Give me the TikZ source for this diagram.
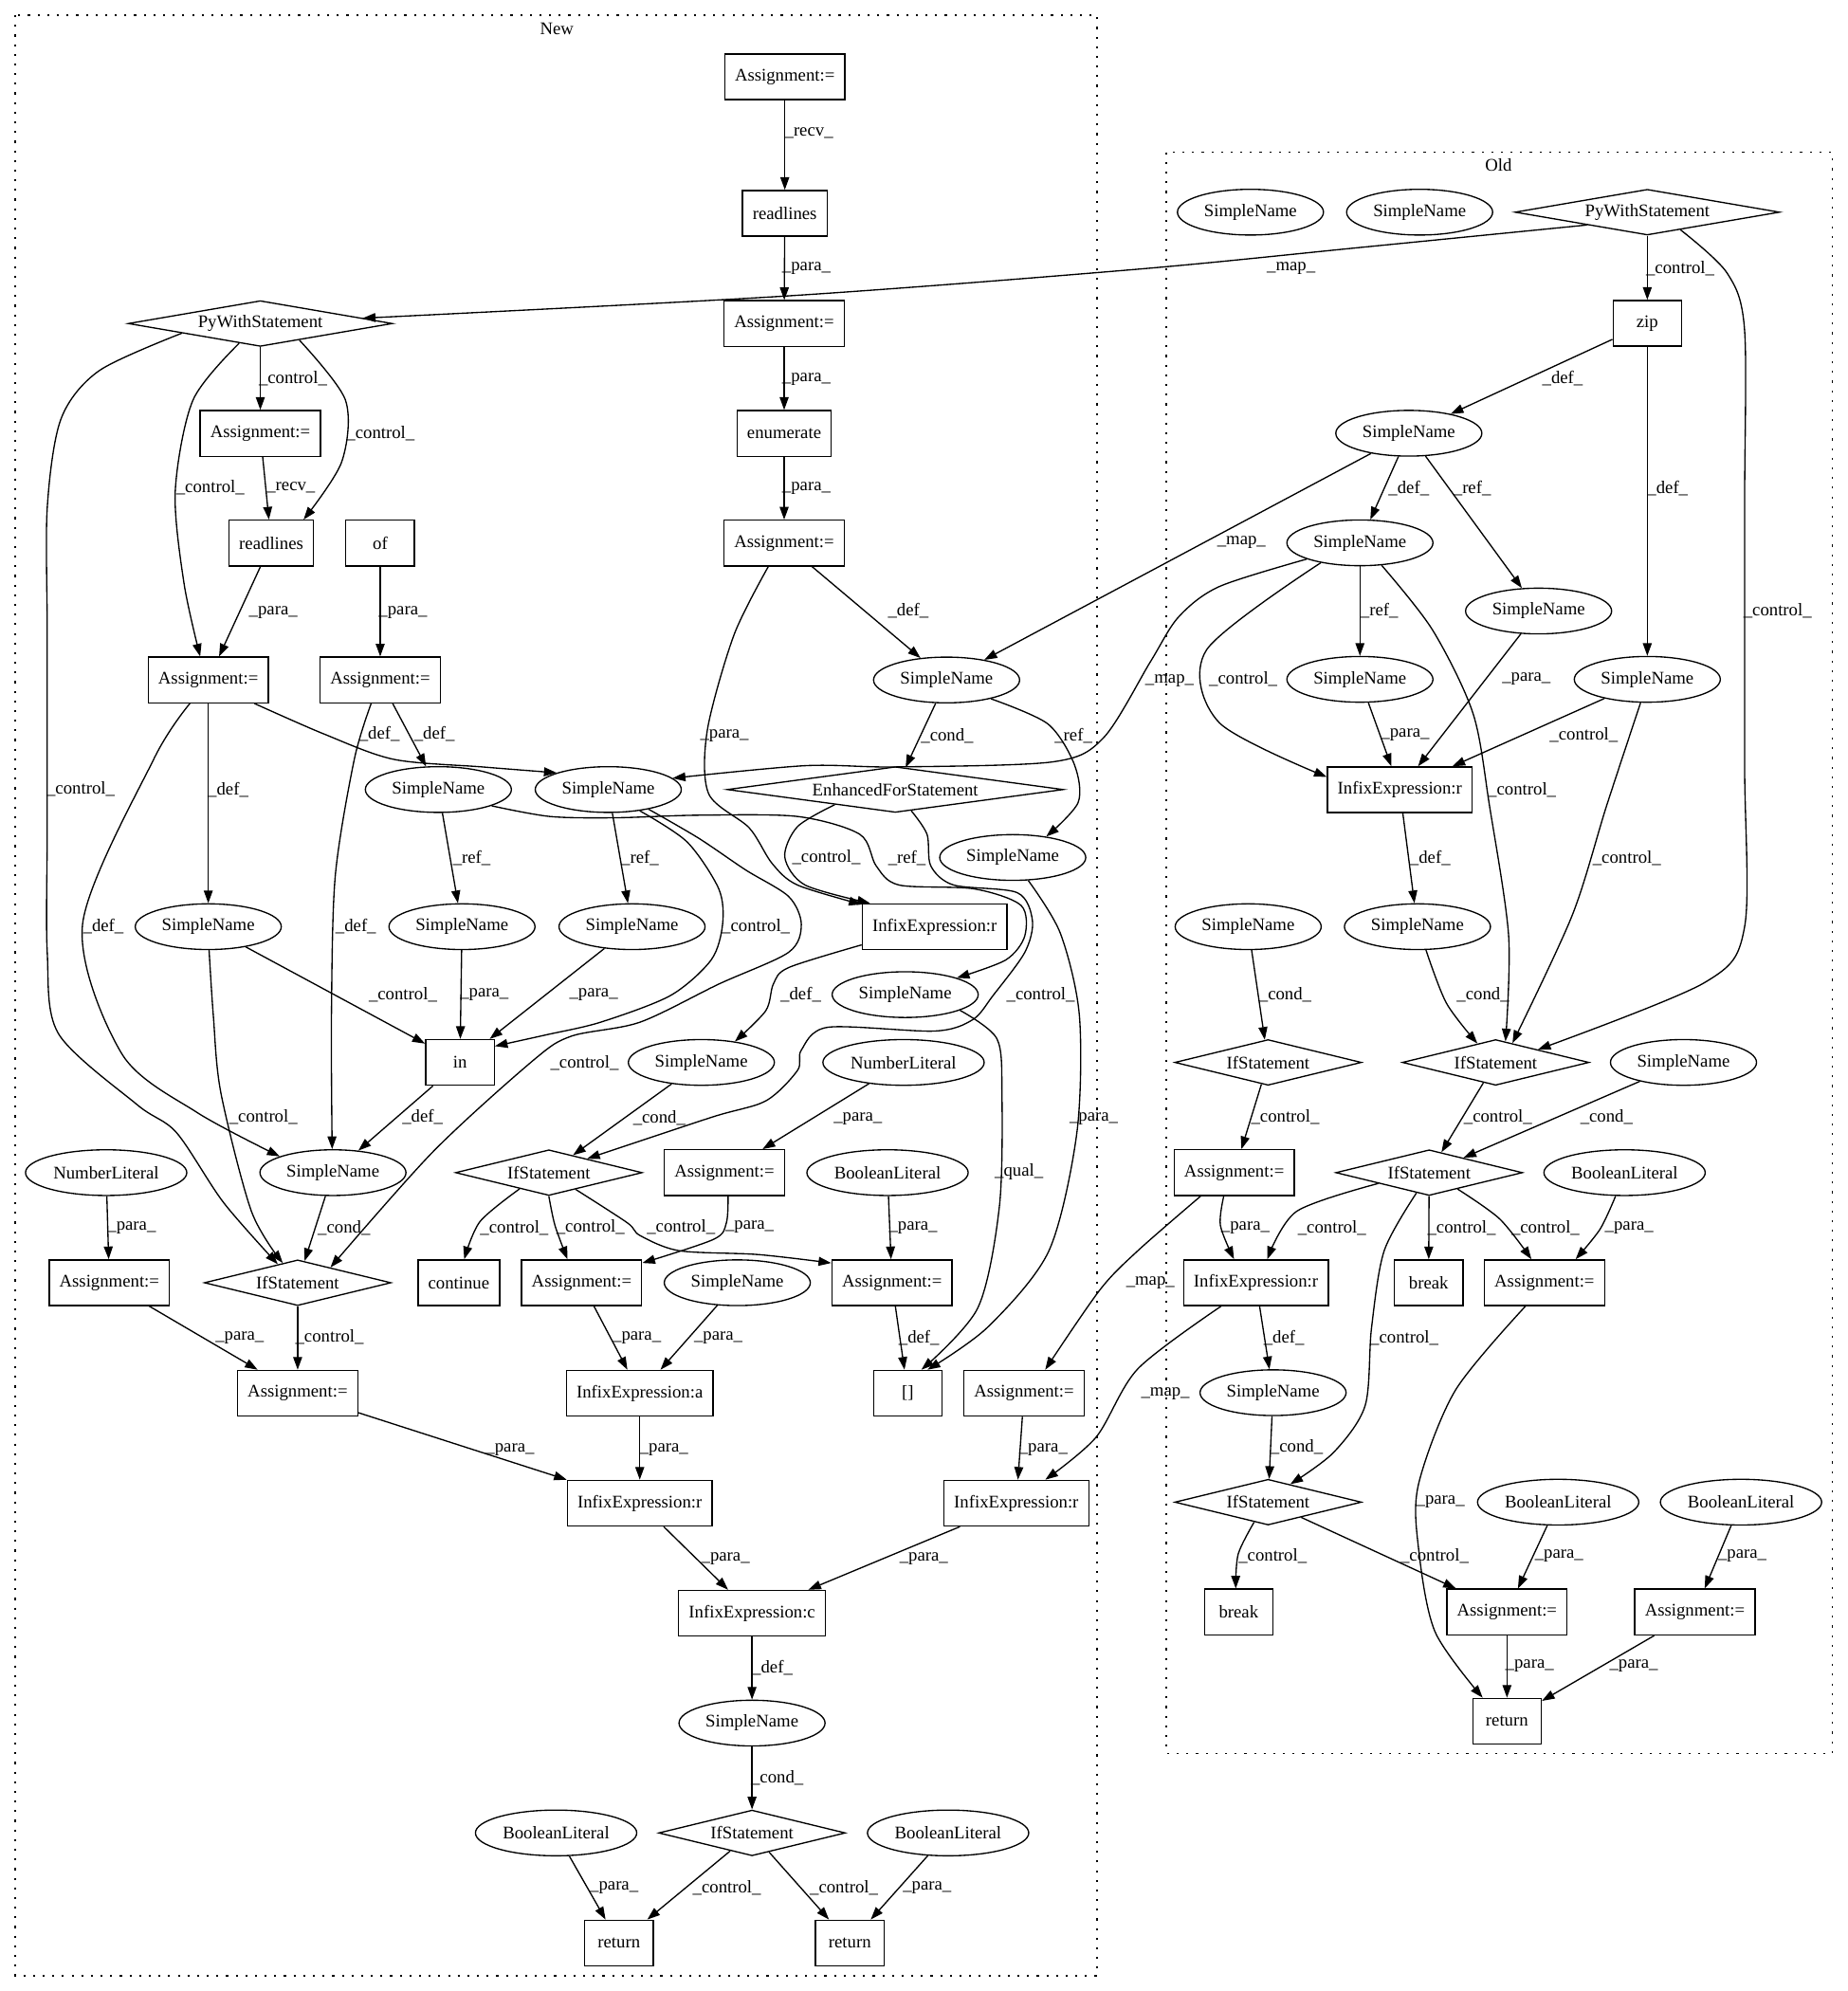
\documentclass[tikz,border=0pt]{standalone}
\usepackage{fontspec}
\setmainfont{Liberation Serif}
\usetikzlibrary{shapes.geometric,arrows.meta}
\newcommand{\mkelab}[3]{\node[lab] (#1) at (#2) {\_#3\_};}
\begin{document}
\begin{tikzpicture}[x=1pt,y=-1pt,font=\fontsize{14}{16}\selectfont,
  box/.style={draw,rectangle,line width=1pt,minimum height=36pt,minimum width=54pt,inner xsep=8pt,inner ysep=0pt},
  ell/.style={draw,ellipse,line width=1pt,minimum height=36pt,minimum width=115pt,inner sep=0pt},
  lit/.style={ell,minimum width=127pt},
  dia/.style={draw,diamond,line width=1pt,minimum height=36pt,inner sep=0pt,aspect=4},
  e/.style={line width=1pt,-{Triangle[length=10pt,width=7pt]}},
  lab/.style={inner sep=0pt},
  clus/.style={draw,line width=1pt,dash pattern=on 1.6pt off 6pt}]
\useasboundingbox (0,0) rectangle (1455,1568);
% clusters
\draw[clus] (12,12) rectangle (864,1556);
\node[lab] (tNew) at (438.5,23) {New};
\draw[clus] (918.5,120) rectangle (1443,1381);
\node[lab] (tOld) at (1180,130) {Old};
% ---------------- New nodes
\node[box] (A1) at (618,60.5) {Assignment:=};
\node[box] (RL1) at (618,168) {readlines};
\node[box] (A2) at (617.5,254.8) {Assignment:=};
\node[box] (ENUM) at (617.5,341.3) {enumerate};
\node[box] (A3) at (617.5,427.7) {Assignment:=};
\node[dia,aspect=6,minimum width=208pt] (PWN) at (205,254.8) {PyWithStatement};
\node[box] (A4) at (205,341.3) {Assignment:=};
\node[box] (RL2) at (213.6,427.7) {readlines};
\node[box] (OF) at (299.4,427.7) {of};
\node[box] (A5) at (164,535.5) {Assignment:=};
\node[box] (A6) at (299.4,535.5) {Assignment:=};
\node[ell] (SNf) at (745.4,535.5) {SimpleName};
\node[ell] (SNa) at (479,621.8) {SimpleName};
\node[ell] (SNb) at (345.2,621.8) {SimpleName};
\node[dia,aspect=7,minimum width=264.7pt] (EFS) at (705,621.8) {EnhancedForStatement};
\node[ell] (SNg) at (797.5,675.3) {SimpleName};
\node[ell] (SNc) at (164,729.8) {SimpleName};
\node[ell] (SNd) at (363.8,729.8) {SimpleName};
\node[ell] (SNe) at (497.7,729.8) {SimpleName};
\node[box] (IR1) at (736,729.8) {InfixExpression:r};
\node[ell] (SNh) at (712.8,783.3) {SimpleName};
\node[box] (IN) at (362.2,836.7) {in};
\node[ell] (SNi) at (552.3,836.7) {SimpleName};
\node[lit] (NL1) at (711.5,836.7) {NumberLiteral};
\node[ell] (SNj) at (262.2,923.5) {SimpleName};
\node[dia,minimum width=147pt] (IF1) at (432.2,923.5) {IfStatement};
\node[lit] (NL2) at (83.6,923.5) {NumberLiteral};
\node[box] (A7) at (570.4,923.5) {Assignment:=};
\node[lit] (BL1) at (698.9,923.5) {BooleanLiteral};
\node[dia,minimum width=147pt] (IF2) at (234.4,1010.2) {IfStatement};
\node[box] (A8) at (86.1,1010.2) {Assignment:=};
\node[box] (CONT) at (361.3,1010.2) {continue};
\node[box] (A9) at (458,1010.2) {Assignment:=};
\node[ell] (SNk) at (580.6,1010.2) {SimpleName};
\node[box] (A10) at (702.4,1010.2) {Assignment:=};
\node[box] (ARR) at (714.9,1097.2) {[]};
\node[box] (A11) at (234.4,1097.2) {Assignment:=};
\node[box] (INA) at (503.8,1097.2) {InfixExpression:a};
\node[box] (A12) at (806.4,1097.2) {Assignment:=};
\node[box] (IR2) at (503.8,1183.8) {InfixExpression:r};
\node[box] (IR3) at (800.3,1183.8) {InfixExpression:r};
\node[box] (IC) at (592.2,1270.5) {InfixExpression:c};
\node[ell] (SNl) at (592.2,1357) {SimpleName};
\node[dia,minimum width=147pt] (IF3) at (592.2,1443.5) {IfStatement};
\node[lit] (BL2) at (437.9,1443.5) {BooleanLiteral};
\node[lit] (BL3) at (746.6,1443.5) {BooleanLiteral};
\node[box] (RET1) at (487.4,1530.2) {return};
\node[box] (RET2) at (669.2,1530.2) {return};
% ---------------- Old nodes
\node[ell] (SNo1) at (984.7,167.1) {SimpleName};
\node[ell] (SNo2) at (1117.9,167.1) {SimpleName};
\node[dia,aspect=6,minimum width=208.4pt] (PWO) at (1297.2,167.1) {PyWithStatement};
\node[box] (ZIP) at (1297.2,254.6) {zip};
\node[ell] (SNo3) at (1109.4,341.2) {SimpleName};
\node[ell] (SNo4) at (1070.9,427.5) {SimpleName};
\node[ell] (SNo5) at (1211.6,481.2) {SimpleName};
\node[ell] (SNo7) at (1070.9,535) {SimpleName};
\node[ell] (SNo6) at (1297.2,535) {SimpleName};
\node[box] (IRo1) at (1102.3,622) {InfixExpression:r};
\node[ell] (SNo9) at (982.9,729.8) {SimpleName};
\node[ell] (SNo8) at (1116.2,729.8) {SimpleName};
\node[dia,minimum width=147pt] (IFo2) at (998.6,836.7) {IfStatement};
\node[dia,minimum width=147pt] (IFo1) at (1177.8,836.7) {IfStatement};
\node[ell] (SNo10) at (1325.7,836.7) {SimpleName};
\node[box] (Ao1) at (971.9,923.5) {Assignment:=};
\node[dia,minimum width=147pt] (IFo3) at (1125.4,923.5) {IfStatement};
\node[lit] (BLo1) at (1279.3,923.5) {BooleanLiteral};
\node[box] (IRo2) at (989,1010.2) {InfixExpression:r};
\node[box] (BRK1) at (1125,1010.2) {break};
\node[box] (Ao2) at (1216.2,1010.2) {Assignment:=};
\node[ell] (SNo11) at (1002.5,1096.8) {SimpleName};
\node[dia,minimum width=147pt] (IFo4) at (998.6,1183) {IfStatement};
\node[lit] (BLo2) at (1227,1183) {BooleanLiteral};
\node[lit] (BLo3) at (1371,1183) {BooleanLiteral};
\node[box] (BRK2) at (975.4,1269.5) {break};
\node[box] (Ao3) at (1186.7,1269.5) {Assignment:=};
\node[box] (Ao4) at (1334.6,1269.5) {Assignment:=};
\node[box] (RETo) at (1186.7,1355.5) {return};
% ---------------- New straight edges
\draw[e] (A1) -- (RL1);
\draw[e] (RL1) -- (A2);
\draw[e] (A2) -- (ENUM);
\draw[e] (ENUM) -- (A3);
\draw[e] (A3) -- (SNf);
\draw[e] (SNf) -- (EFS);
\draw[e] (SNa) -- (SNe);
\draw[e] (SNb) -- (SNd);
\draw[e] (A5) -- (SNc);
\draw[e] (A6) -- (SNb);
\draw[e] (PWN) -- (A4);
\draw[e] (A4) -- (RL2);
\draw[e] (RL2) -- (A5);
\draw[e] (OF) -- (A6);
\draw[e] (SNc) -- (IN);
\draw[e] (SNd) -- (IN);
\draw[e] (SNe) -- (IN);
\draw[e] (IN) -- (SNj);
\draw[e] (SNj) -- (IF2);
\draw[e] (SNi) -- (IF1);
\draw[e] (NL1) -- (A7);
\draw[e] (BL1) -- (A10);
\draw[e] (A10) -- (ARR);
\draw[e] (NL2) -- (A8);
\draw[e] (A8) -- (A11);
\draw[e] (IF2) -- (A11);
\draw[e] (A9) -- (INA);
\draw[e] (SNk) -- (INA);
\draw[e] (INA) -- (IR2);
\draw[e] (A11) -- (IR2);
\draw[e] (A12) -- (IR3);
\draw[e] (IR2) -- (IC);
\draw[e] (IR3) -- (IC);
\draw[e] (IC) -- (SNl);
\draw[e] (SNl) -- (IF3);
\draw[e] (IF3) -- (RET1);
\draw[e] (IF3) -- (RET2);
\draw[e] (BL2) -- (RET1);
\draw[e] (BL3) -- (RET2);
% ---------------- New curved edges
\draw[e] plot[smooth] coordinates {(A3.236) (578,500) (557,575) (558,625) (590,652) (608,680) (628,697) (IR1.163)};
\draw[e] plot[smooth] coordinates {(SNf.337) (825,570) (846,602) (849,632) (SNg.32)};
\draw[e] plot[smooth] coordinates {(SNa.326) (541,663) (566,700) (569,728) (560,756) (528,784) (473,805) (430,815) (IN.25)};
\draw[e] plot[smooth] coordinates {(SNa.334) (550,660) (587,685) (621,706) (631,728) (621,750) (566,775) (504,805) (450,816) (420,835) (341,907) (IF2.25)};
\draw[e] plot[smooth] coordinates {(SNb.343) (433,643) (485,644) (550,642) (628,643) (677,657) (690,682) (708,697) (767,700) (804,713) (807,737) (792,756) (SNh.18)};
\draw[e] plot[smooth] coordinates {(EFS.194) (628,651) (618,675) (634,697) (IR1.160)};
\draw[e] plot[smooth] coordinates {(EFS.307) (730,657) (733,682) (751,697) (801,703) (813,725) (807,750) (782,784) (766,803) (736,812) (652,809) (631,827) (628,843) (603,867) (560,880) (IF1.20)};
\draw[e] plot[smooth] coordinates {(SNg.304) (835,735) (850,800) (848,892) (826,985) (778,1045) (ARR.50)};
\draw[e] plot[smooth] coordinates {(SNh.344) (785,818) (789,861) (787,950) (770,1030) (ARR.60)};
\draw[e] plot[smooth] coordinates {(IR1.194) (621,762) (609,775) (603,796) (SNi.32)};
\draw[e] plot[smooth] coordinates {(A5.333) (255,578) (310,598) (380,604) (SNa.162)};
\draw[e] plot[smooth] coordinates {(A5.232) (121,598) (65,728) (96,830) (155,876) (SNj.163)};
\draw[e] plot[smooth] coordinates {(A6.249) (279,598) (264,690) (261,800) (SNj.92)};
\draw[e] plot[smooth] coordinates {(PWN.337) (272,315) (269,364) (RL2.36)};
\draw[e] plot[smooth] coordinates {(PWN.223) (152,315) (138,387) (145,460) (A5.109)};
\draw[e] plot[smooth] coordinates {(PWN.187) (78,292) (48,330) (37.2,400) (37.2,500) (37.2,650) (37.2,750) (46,814) (108,870) (139,892) (176,947) (IF2.137)};
\draw[e] plot[smooth] coordinates {(SNc.272) (168,800) (174,861) (198,954) (IF2.127)};
\draw[e] plot[smooth] coordinates {(IF1.209) (378,962) (CONT.77)};
\draw[e] plot[smooth] coordinates {(IF1.south) (437,965) (A9.121)};
\draw[e] plot[smooth] coordinates {(IF1.328) (494,963) (504,973) (535,985) (597,988) (A10.162)};
\draw[e] plot[smooth] coordinates {(A7.279) (572,963) (562,976) (A9.18)};
% ---------------- map edges
\draw[e] plot[smooth] coordinates {(PWO.192) (1070,195) (896,212) (621,233) (PWN.3)};
\draw[e] (SNo3) -- (SNf);
\draw[e] plot[smooth] coordinates {(SNo4.197) (960,462) (928,486) (906,521) (869,581) (829,600) (705,604) (634,603) (SNa.10)};
\draw[e] plot[smooth] coordinates {(Ao1.215) (896,985) (866,1016) (A12.48)};
\draw[e] plot[smooth] coordinates {(IRo2.214) (896,1078) (863,1132) (IR3.39)};
% ---------------- Old straight edges
\draw[e] (PWO) -- (ZIP);
\draw[e] (ZIP) -- (SNo3);
\draw[e] (ZIP) -- (SNo6);
\draw[e] (SNo3) -- (SNo4);
\draw[e] (SNo3) -- (SNo5);
\draw[e] (SNo4) -- (SNo7);
\draw[e] (SNo5) -- (IRo1);
\draw[e] (SNo7) -- (IRo1);
\draw[e] (SNo6) -- (IRo1);
\draw[e] (IRo1) -- (SNo8);
\draw[e] (SNo9) -- (IFo2);
\draw[e] (IFo2) -- (Ao1);
\draw[e] (IFo1) -- (IFo3);
\draw[e] (SNo10) -- (IFo3);
\draw[e] (IFo3) -- (BRK1);
\draw[e] (IRo2) -- (SNo11);
\draw[e] (SNo11) -- (IFo4);
\draw[e] (IFo4) -- (Ao3);
\draw[e] (BLo2) -- (Ao3);
\draw[e] (BLo3) -- (Ao4);
\draw[e] (Ao3) -- (RETo);
\draw[e] (Ao4) -- (RETo);
% ---------------- Old curved edges
\draw[e] plot[smooth] coordinates {(PWO.332) (1360,215) (1373.8,260) (1373.8,400) (1373.8,600) (1373.8,730) (1342,774) (IFo1.17)};
\draw[e] plot[smooth] coordinates {(SNo4.207) (950,512) (960,569) (IRo1.170)};
\draw[e] plot[smooth] coordinates {(SNo4.314) (1128,496) (1160,562) (1173,635) (1188,737) (IFo1.65)};
\draw[e] plot[smooth] coordinates {(SNo6.254) (1265,635) (1238,721) (IFo1.49)};
\draw[e] plot[smooth] coordinates {(SNo8.290) (1139,790) (IFo1.134)};
\draw[e] plot[smooth] coordinates {(IFo3.192) (1021,954) (IRo2.64)};
\draw[e] plot[smooth] coordinates {(Ao1.246) (961,965) (IRo2.133)};
\draw[e] plot[smooth] coordinates {(IFo3.330) (1181,960) (Ao2.119)};
\draw[e] plot[smooth] coordinates {(BLo1.249) (1260,968) (Ao2.37)};
\draw[e] plot[smooth] coordinates {(IFo3.238) (1090,985) (1080,1046) (1075,1107) (1050,1144) (IFo4.39)};
\draw[e] plot[smooth] coordinates {(IFo4.235) (975,1224) (BRK2.97)};
\draw[e] plot[smooth] coordinates {(Ao2.231) (1146,1095) (1117,1169) (1117,1219) (1130,1285) (RETo.136)};
% ---------------- labels
\mkelab{L1}{637,105}{recv}
\mkelab{L2}{635,211.7}{para}
\mkelab{L3}{635,298.4}{para}
\mkelab{L4}{635,384.5}{para}
\mkelab{L5}{715.2,481.2}{def}
\mkelab{L6}{570.5,579.4}{para}
\mkelab{L7}{745.9,579.4}{cond}
\mkelab{L8}{845.3,579.4}{ref}
\mkelab{L9}{504,675.5}{ref}
\mkelab{L10}{595.2,729.8}{control}
\mkelab{L11}{460.3,837}{control}
\mkelab{L12}{371.5,675.9}{ref}
\mkelab{L13}{714.2,675.5}{ref}
\mkelab{L14}{650.7,675.5}{control}
\mkelab{L15}{819.5,783.2}{control}
\mkelab{L16}{861.3,880.8}{para}
\mkelab{L17}{802.4,923.2}{qual}
\mkelab{L18}{630.6,783.2}{def}
\mkelab{L19}{179.6,621.7}{def}
\mkelab{L20}{298.8,578.3}{def}
\mkelab{L21}{81.4,729.8}{def}
\mkelab{L22}{280.2,729.8}{def}
\mkelab{L23}{342.1,578.3}{def}
\mkelab{L24}{230.7,297.8}{control}
\mkelab{L25}{299.7,341.4}{control}
\mkelab{L26}{165.6,384}{control}
\mkelab{L27}{63.5,621.7}{control}
\mkelab{L28}{229.1,384}{recv}
\mkelab{L29}{215.2,482.5}{para}
\mkelab{L30}{317.3,482.5}{para}
\mkelab{L31}{317.3,783.3}{control}
\mkelab{L32}{207.4,879.9}{control}
\mkelab{L33}{381.4,783.3}{para}
\mkelab{L34}{467.5,783.3}{para}
\mkelab{L35}{332.8,879.9}{def}
\mkelab{L36}{270.9,966.9}{cond}
\mkelab{L37}{519.2,880.8}{cond}
\mkelab{L38}{405,966.9}{control}
\mkelab{L39}{465,966.5}{control}
\mkelab{L40}{536.3,966.5}{control}
\mkelab{L41}{675.6,880.8}{para}
\mkelab{L42}{590.3,966.5}{para}
\mkelab{L43}{719.1,966.9}{para}
\mkelab{L44}{723.7,1053.5}{def}
\mkelab{L45}{103.7,966.9}{para}
\mkelab{L46}{188.8,1053.3}{para}
\mkelab{L47}{259.5,1053.3}{control}
\mkelab{L48}{501.5,1053.5}{para}
\mkelab{L49}{565.6,1053.5}{para}
\mkelab{L50}{522.9,1141.4}{para}
\mkelab{L51}{401.7,1141.4}{para}
\mkelab{L52}{821.6,1141.4}{para}
\mkelab{L53}{571.3,1227.4}{para}
\mkelab{L54}{727.5,1227.4}{para}
\mkelab{L55}{608.2,1313.1}{def}
\mkelab{L56}{612,1399.8}{cond}
\mkelab{L57}{572.4,1486.9}{control}
\mkelab{L58}{664.6,1486.9}{control}
\mkelab{L59}{483.6,1486.9}{para}
\mkelab{L60}{730.1,1486.9}{para}
\mkelab{L61}{1016.7,211.4}{map}
\mkelab{L62}{977.6,427.2}{map}
\mkelab{L63}{921,536}{map}
\mkelab{L64}{905.9,1010.2}{map}
\mkelab{L65}{917.7,1097.6}{map}
\mkelab{L66}{1323.1,211.4}{control}
\mkelab{L67}{1399.8,481.2}{control}
\mkelab{L68}{1230.5,297.7}{def}
\mkelab{L69}{1313.2,384.5}{def}
\mkelab{L70}{1109.4,384.5}{def}
\mkelab{L71}{1159.3,384.5}{ref}
\mkelab{L72}{1086.2,481.2}{ref}
\mkelab{L73}{979,534.8}{control}
\mkelab{L74}{1198.5,622}{control}
\mkelab{L75}{1202,534.8}{para}
\mkelab{L76}{1106.5,578.9}{para}
\mkelab{L77}{1247.2,578.9}{control}
\mkelab{L78}{1281.1,675.9}{control}
\mkelab{L79}{1126.2,675.9}{def}
\mkelab{L80}{1167.8,783.3}{cond}
\mkelab{L81}{1012.1,783.3}{cond}
\mkelab{L82}{1012.1,879.9}{control}
\mkelab{L83}{1179.6,879.9}{control}
\mkelab{L84}{1265.1,879.9}{cond}
\mkelab{L85}{1048.9,966.9}{control}
\mkelab{L86}{980.7,966.9}{para}
\mkelab{L87}{1151,966.9}{control}
\mkelab{L88}{1217,966.9}{control}
\mkelab{L89}{1282.9,966.9}{para}
\mkelab{L90}{1105.9,1053.5}{control}
\mkelab{L91}{1011.1,1053.5}{def}
\mkelab{L92}{1021.1,1139.7}{cond}
\mkelab{L93}{1002.2,1225.4}{control}
\mkelab{L94}{1129.7,1225.4}{control}
\mkelab{L95}{1134.3,1183}{para}
\mkelab{L96}{1227.7,1225.4}{para}
\mkelab{L97}{1372,1225.4}{para}
\mkelab{L98}{1204.5,1312.2}{para}
\mkelab{L99}{1286.5,1312.2}{para}
\end{tikzpicture}
\end{document}
